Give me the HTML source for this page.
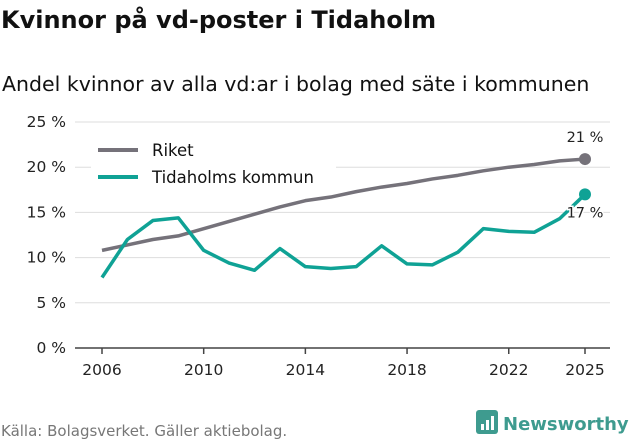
<!DOCTYPE html>
<html><head><meta charset="utf-8"><style>
body{margin:0;background:#fff;font-family:"DejaVu Sans","Liberation Sans",sans-serif;}
svg text{font-family:"DejaVu Sans","Liberation Sans",sans-serif;}
</style></head><body>
<svg id="chart" width="631" height="439">
<text x="1" y="28" font-size="24" font-weight="bold" fill="#111">Kvinnor på vd-poster i Tidaholm</text>
<text x="2" y="91" font-size="20.5" fill="#111">Andel kvinnor av alla vd:ar i bolag med säte i kommunen</text>
<g id="grid"></g><g id="lines"></g>
<text x="1" y="436" font-size="15" fill="#777">Källa: Bolagsverket. Gäller aktiebolag.</text>
<g>
<rect x="476" y="410" width="22" height="24" rx="3" fill="#3e9b8f"/>
<rect x="481" y="424" width="3" height="6" fill="#fff"/><rect x="486" y="420" width="3" height="10" fill="#fff"/><rect x="491" y="416" width="3" height="14" fill="#fff"/>
<text x="503" y="430" font-size="18" font-weight="bold" fill="#3e9b8f">Newsworthy</text>
</g>
</svg>
<script>
const years=[2006,2007,2008,2009,2010,2011,2012,2013,2014,2015,2016,2017,2018,2019,2020,2021,2022,2023,2024,2025];
const riket=[10.8,11.4,12.0,12.4,13.2,14.0,14.8,15.6,16.3,16.7,17.3,17.8,18.2,18.7,19.1,19.6,20.0,20.3,20.7,20.9];
const tidaholm=[7.8,12.0,14.1,14.4,10.8,9.4,8.6,11.0,9.0,8.8,9.0,11.3,9.3,9.2,10.6,13.2,12.9,12.8,14.3,17.0];
const yTicks=[0,5,10,15,20,25];
const xTicks=[2006,2010,2014,2018,2022,2025];
const NS="http://www.w3.org/2000/svg";
const x=v=>102+(v-2006)*(585-102)/19;
const y=v=>348-v*(348-122)/25;
function mk(t,a,p){const e=document.createElementNS(NS,t);for(const k in a)e.setAttribute(k,a[k]);p.appendChild(e);return e;}
const g=document.getElementById('grid'),L=document.getElementById('lines');
yTicks.forEach(v=>{
 const l=mk('line',{x1:75,x2:610,y1:y(v),y2:y(v),stroke:v===0?'#fff':'#ddd','stroke-width':1},g);
 
 
 const t=mk('text',{x:66,y:y(v)+5,'font-size':15.5,'text-anchor':'end',fill:'#222'},g);
 t.textContent=v+' %';
 
 
});
const ax=mk('line',{x1:75,x2:610,y1:348,y2:348,stroke:'#444','stroke-width':1.5},g);


xTicks.forEach(v=>{
 const l=mk('line',{x1:x(v),x2:x(v),y1:348,y2:354,stroke:'#444','stroke-width':1.5},g);
 
 
 const t=mk('text',{x:x(v),y:375,'font-size':15.5,'text-anchor':'middle',fill:'#222'},g);
 t.textContent=v;
 
 
});
function series(vals,col,name){
 const p=mk('polyline',{points:vals.map((v,i)=>x(years[i])+','+y(v)).join(' '),fill:'none',stroke:col,'stroke-width':3.5,'stroke-linejoin':'round'},L);
 
 
 const n=vals.length-1;
 const c=mk('circle',{cx:x(years[n]),cy:y(vals[n]),r:6,fill:col},L);
 
 
 return n;
}
let n=series(riket,'#75727a','riket');
let t1=mk('text',{x:x(years[n]),y:y(riket[n])-17,'font-size':14.5,'text-anchor':'middle',fill:'#222'},L);
t1.textContent=Math.round(riket[n])+' %';


n=series(tidaholm,'#0fa295','tidaholm');
let t2=mk('text',{x:x(years[n]),y:y(tidaholm[n])+23,'font-size':14.5,'text-anchor':'middle',fill:'#222',stroke:'#fff','stroke-width':3,'paint-order':'stroke'},L);
t2.textContent=Math.round(tidaholm[n])+' %';


const lg=mk('g',{},L);


mk('rect',{x:91,y:135,width:245,height:58,fill:'#fff'},lg);
[['Riket','#75727a',150],['Tidaholms kommun','#0fa295',177]].forEach(d=>{
 const e=mk('g',{},lg);
 
 
 mk('line',{x1:98,x2:138,y1:d[2],y2:d[2],stroke:d[1],'stroke-width':4},e);
 const t=mk('text',{x:152,y:d[2]+6,'font-size':16.5,fill:'#111'},e);t.textContent=d[0];
});
</script>
</body></html>
